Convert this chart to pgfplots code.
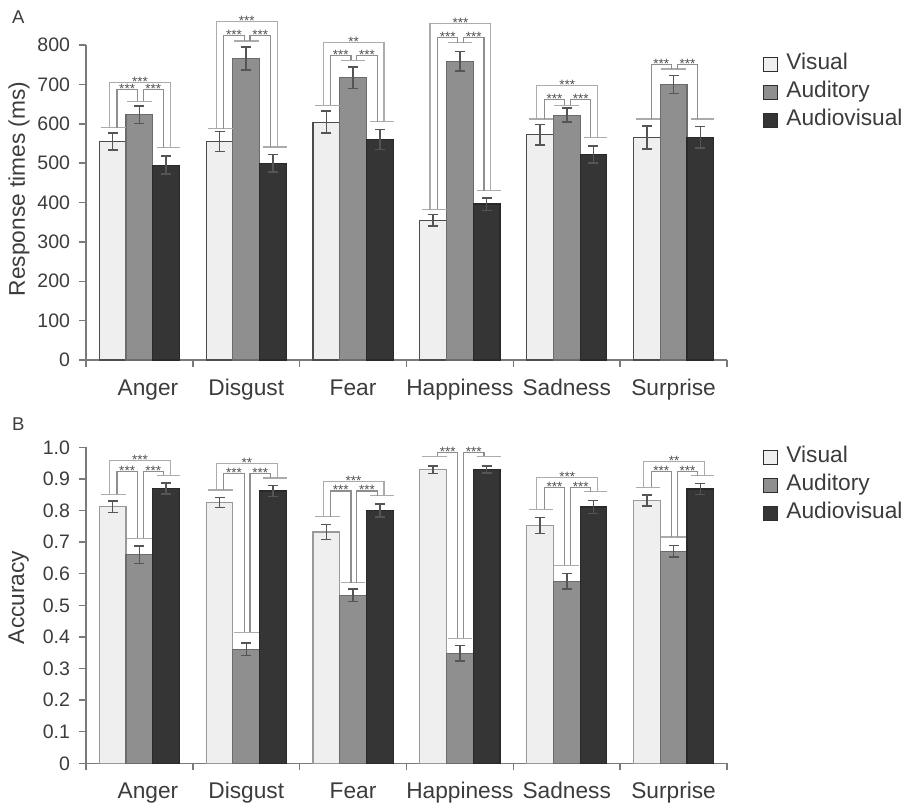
\documentclass[border=0pt]{standalone}
\usepackage{fontspec}
\setmainfont{Liberation Sans}
\usepackage{pgfplots}
\pgfplotsset{compat=1.18}

\definecolor{visfill}{HTML}{EFEFEF}
\definecolor{audfill}{HTML}{8F8F8F}
\definecolor{avfill}{HTML}{353535}
\definecolor{txt}{HTML}{3C3C3C}
\definecolor{axisgray}{HTML}{7A7A7A}
\definecolor{errgray}{HTML}{555555}
\definecolor{brkouter}{HTML}{ABABAB}
\definecolor{brkinner}{HTML}{8E8E8E}
\definecolor{stargray}{HTML}{505050}
\definecolor{legbord}{HTML}{2E2E2E}

% caps above the three bars of group #1 at heights #2 (visual), #3 (auditory), #4 (audiovisual)
\newcommand{\capsat}[4]{%
  \draw[brkouter, line width=1.2pt] (axis cs:{#1-0.355},#2) -- (axis cs:{#1-0.125},#2);
  \draw[brkouter, line width=1.2pt] (axis cs:{#1-0.115},#3) -- (axis cs:{#1+0.115},#3);
  \draw[brkouter, line width=1.2pt] (axis cs:{#1+0.16},#4) -- (axis cs:{#1+0.38},#4);}
% significance bracket: group, x1, x2 (offsets), foot heights y1, y2, top, label, colour
\newcommand{\sigbr}[8]{%
  \draw[#8, line width=1.2pt] (axis cs:{#1+#2},#4) |- (axis cs:{#1+#3},#6) -- (axis cs:{#1+#3},#5);
  \node[anchor=base, yshift=-4pt, inner sep=0pt, text=stargray,
        font=\fontsize{13.5}{13.5}\selectfont] at (axis cs:{#1+(#2+#3)/2},#6) {#7};}
% full set of brackets for one group
\newcommand{\groupsig}[8]{% group, capV, capA, capAV, inner top, outer top, labVA, labAAV
  \capsat{#1}{#2}{#3}{#4}
  \sigbr{#1}{-0.21}{-0.02}{#2}{#3}{#5}{#7}{brkinner}
  \sigbr{#1}{0.035}{0.225}{#3}{#4}{#5}{#8}{brkinner}}
\newcommand{\outersig}[5]{% group, capV, capAV, top, label
  \sigbr{#1}{-0.28}{0.29}{#2}{#3}{#4}{#5}{brkouter}}

\pgfplotsset{
  emo/.style={
    scale only axis, width=641pt,
    xmin=0.5, xmax=6.5, ymin=0,
    axis x line*=bottom, axis y line*=left,
    axis line style={axisgray, line width=1.5pt},
    ybar=0pt, bar width=0.25,
    clip=false,
    xtick={0.5,1.5,...,6.5},
    x tick label as interval,
    xticklabels={{\hspace*{17pt}Anger},Disgust,Fear,Happiness,Sadness,Surprise},
    tick align=outside,
    major tick length=6.5pt,
    tick style={axisgray, line width=1.5pt},
    xticklabel style={font=\fontsize{22.7}{22.7}\selectfont, text=txt, yshift=-9pt,
      text height=16.5pt, text depth=5pt},
    yticklabel style={font=\fontsize{19.5}{19.5}\selectfont, text=txt, xshift=-6pt},
    /pgf/number format/assume math mode=true,
    ylabel style={font=\fontsize{22.7}{22.7}\selectfont, text=txt, anchor=center},
    error bars/y dir=both, error bars/y explicit,
    error bars/error bar style={errgray, line width=1.5pt},
    error bars/error mark options={errgray, line width=1.5pt, mark size=5pt, rotate=90},
    legend cell align=left,
    legend style={anchor=north west, draw=none, fill=none, inner sep=0pt, outer sep=0pt,
      row sep=7pt, column sep=8pt, text=txt,
      font=\fontsize{22.7}{22.7}\selectfont,
      nodes={inner sep=0pt, text height=16pt, text depth=5pt}},
    legend image code/.code={\draw[#1, draw=legbord, line width=1.5pt] (0pt,-8pt) rectangle (14pt,6pt);},
  },
  visbar/.style={fill=visfill, draw=#1, line width=1.2pt},
  audbar/.style={fill=audfill, draw=black!58, line width=1.2pt},
  avbar/.style={fill=avfill, draw=black!84, line width=1.2pt},
}

\begin{document}
\begin{tikzpicture}
\useasboundingbox (0pt,0pt) rectangle (906pt,-807pt);

\node[anchor=base west, inner sep=0pt, text=txt, font=\fontsize{18.5}{18.5}\selectfont] at (12pt,-23pt) {A};
\node[anchor=base west, inner sep=0pt, text=txt, font=\fontsize{18.5}{18.5}\selectfont] at (12pt,-430pt) {B};

% ---- A: response times ----
\begin{axis}[emo, at={(86pt,-360pt)}, anchor=south west,
  height=315pt, ymax=800, ytick={0,100,...,800},
  ylabel={Response times (ms)},
  ylabel style={at={(rel axis cs:-0.1045,0.543)}},
  legend style={at={(rel axis cs:1.056,0.974)}},
  legend entries={Visual,Auditory,Audiovisual}]
\addplot[visbar=black!70] coordinates {
  (1,555) +- (0,22) (2,555) +- (0,25) (3,604) +- (0,28)
  (4,355) +- (0,15) (5,572) +- (0,26) (6,565) +- (0,29)};
\addplot[audbar] coordinates {
  (1,623) +- (0,22) (2,766) +- (0,29) (3,717) +- (0,27)
  (4,759) +- (0,25) (5,622) +- (0,18) (6,700) +- (0,23)};
\addplot[avbar] coordinates {
  (1,495) +- (0,23) (2,500) +- (0,22) (3,560) +- (0,25)
  (4,396) +- (0,16) (5,522) +- (0,22) (6,566) +- (0,27)};
\groupsig{1}{590}{657}{539}{687}{}{***}{***}
\outersig{1}{590}{539}{704}{***}
\groupsig{2}{587}{810}{541}{825}{}{***}{***}
\outersig{2}{587}{541}{860}{***}
\groupsig{3}{647}{761}{605}{774}{}{***}{***}
\outersig{3}{647}{605}{807}{**}
\groupsig{4}{383}{806}{430}{819}{}{***}{***}
\outersig{4}{383}{430}{855}{***}
\groupsig{5}{612}{647}{566}{662}{}{***}{***}
\outersig{5}{612}{566}{698}{***}
\groupsig{6}{612}{739}{612}{750}{}{***}{***}
\end{axis}

% ---- B: accuracy ----
\begin{axis}[emo, at={(86pt,-763.3pt)}, anchor=south west,
  height=316pt, ymax=1,
  ytick={0,0.1,0.2,0.3,0.4,0.5,0.6,0.7,0.8,0.9,1},
  yticklabels={0,0.1,0.2,0.3,0.4,0.5,0.6,0.7,0.8,0.9,1.0},
  ylabel={Accuracy},
  ylabel style={at={(rel axis cs:-0.105,0.525)}},
  legend style={at={(rel axis cs:1.056,1.004)}},
  legend entries={Visual,Auditory,Audiovisual}]
\addplot[visbar=black!40] coordinates {
  (1,0.812) +- (0,0.018) (2,0.825) +- (0,0.016) (3,0.732) +- (0,0.023)
  (4,0.929) +- (0,0.012) (5,0.753) +- (0,0.025) (6,0.832) +- (0,0.017)};
\addplot[audbar] coordinates {
  (1,0.660) +- (0,0.027) (2,0.361) +- (0,0.020) (3,0.532) +- (0,0.020)
  (4,0.348) +- (0,0.025) (5,0.576) +- (0,0.025) (6,0.671) +- (0,0.018)};
\addplot[avbar] coordinates {
  (1,0.870) +- (0,0.017) (2,0.862) +- (0,0.017) (3,0.800) +- (0,0.020)
  (4,0.930) +- (0,0.011) (5,0.811) +- (0,0.020) (6,0.868) +- (0,0.017)};
\groupsig{1}{0.851}{0.712}{0.912}{0.923}{}{***}{***}
\outersig{1}{0.851}{0.912}{0.958}{***}
\groupsig{2}{0.865}{0.415}{0.903}{0.918}{}{***}{***}
\outersig{2}{0.865}{0.903}{0.949}{**}
\groupsig{3}{0.780}{0.572}{0.847}{0.862}{}{***}{***}
\outersig{3}{0.780}{0.847}{0.891}{***}
\groupsig{4}{0.972}{0.396}{0.972}{0.984}{}{***}{***}
\groupsig{5}{0.804}{0.627}{0.860}{0.873}{}{***}{***}
\outersig{5}{0.804}{0.860}{0.905}{***}
\groupsig{6}{0.873}{0.716}{0.910}{0.924}{}{***}{***}
\outersig{6}{0.873}{0.910}{0.956}{**}
\end{axis}
\end{tikzpicture}
\end{document}
